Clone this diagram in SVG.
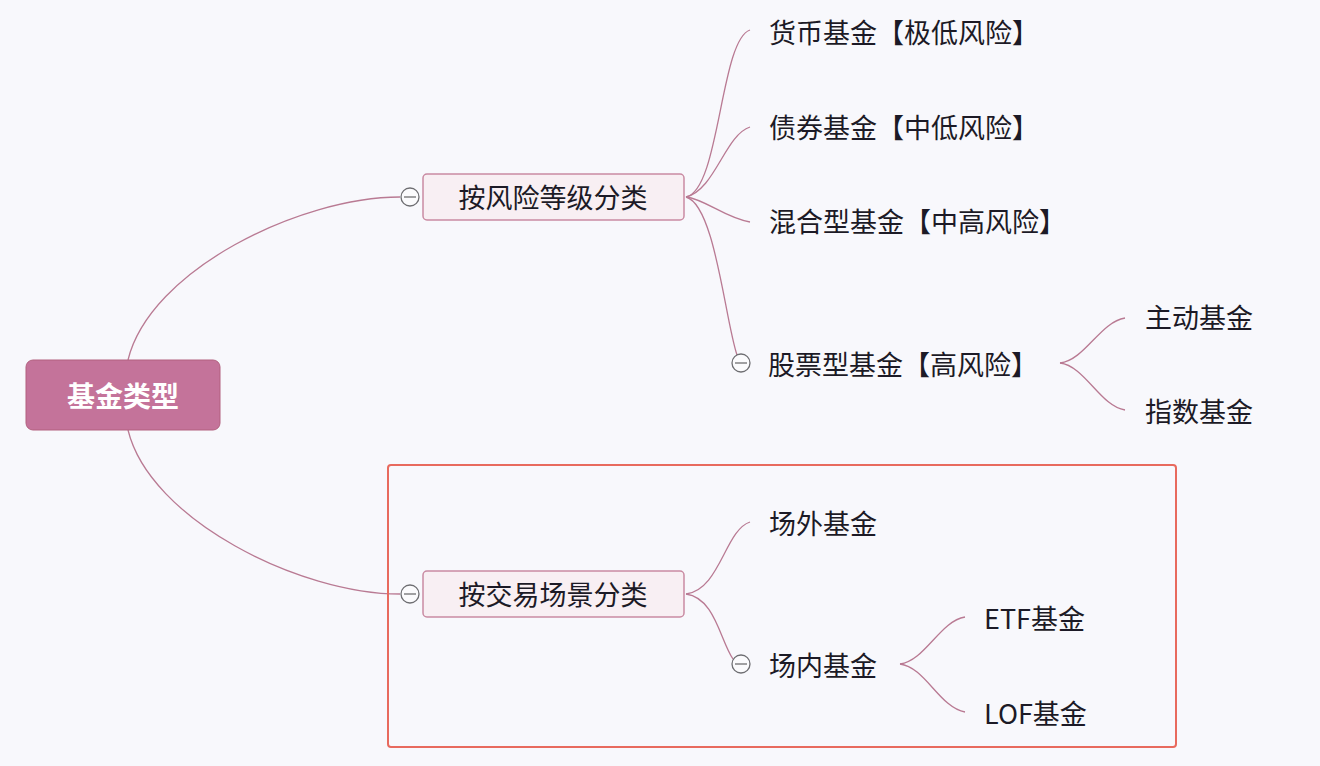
<svg xmlns="http://www.w3.org/2000/svg" width="1320" height="766" viewBox="0 0 1320 766">
<style>
.t{font-family:"Noto Sans CJK SC","Noto Sans",sans-serif;font-size:27px;fill:#1c1a26;dominant-baseline:central}
.c{fill:none;stroke:#b97a93;stroke-width:1.3}
.tog{fill:#fbfbfd;stroke:#6e6e72;stroke-width:1.3}
.br{fill:#f8eff3;stroke:#c98aa2;stroke-width:1.5}
</style>
<rect width="1320" height="766" fill="#f8f8fc"/>
<g id="connectors">
<path class="c" d="M128,360 C150,270 300,197 400,197"/>
<path class="c" d="M128,430 C150,520 300,594 400,594"/>
<path class="c" d="M686,197 C720,190 720,40 750,30"/>
<path class="c" d="M686,197 C715,190 725,135 750,127"/>
<path class="c" d="M686,197 C705,199 725,218 750,222"/>
<path class="c" d="M686,197 C715,205 725,320 737,355"/>
<path class="c" d="M1060,363 C1085,360 1100,322 1125,318"/>
<path class="c" d="M1060,363 C1085,366 1100,406 1125,410"/>
<path class="c" d="M686,594 C720,590 725,530 750,522"/>
<path class="c" d="M686,594 C715,598 720,640 733,659"/>
<path class="c" d="M900,664 C925,661 940,621 965,617"/>
<path class="c" d="M900,664 C925,667 940,708 965,712"/>
</g>
<rect id="highlight" x="388" y="465" width="788" height="282" rx="3" fill="none" stroke="#e86a5e" stroke-width="2"/>
<g id="root">
<rect x="26" y="360" width="194" height="70" rx="7" fill="#c4739a" stroke="#b2607f" stroke-width="1"/>
<text class="t" x="123" y="395" text-anchor="middle" style="fill:#ffffff;font-size:28px;font-weight:bold">基金类型</text>
</g>
<g id="risk">
<rect class="br" x="423" y="174" width="261" height="46" rx="4"/>
<text class="t" x="553" y="196" text-anchor="middle">按风险等级分类</text>
<circle class="tog" cx="410" cy="197" r="9"/>
<line x1="404" y1="197" x2="416" y2="197" stroke="#6e6e72" stroke-width="1.3"/>
</g>
<g id="money"><text class="t" x="769" y="31">货币基金【极低风险】</text></g>
<g id="bond"><text class="t" x="769" y="126">债券基金【中低风险】</text></g>
<g id="mixed"><text class="t" x="769" y="220">混合型基金【中高风险】</text></g>
<g id="stock">
<circle class="tog" cx="741" cy="363" r="9"/>
<line x1="735" y1="363" x2="747" y2="363" stroke="#6e6e72" stroke-width="1.3"/>
<text class="t" x="768" y="363">股票型基金【高风险】</text>
</g>
<g id="active"><text class="t" x="1145" y="316">主动基金</text></g>
<g id="index"><text class="t" x="1145" y="410">指数基金</text></g>
<g id="trade">
<rect class="br" x="423" y="571" width="261" height="46" rx="4"/>
<text class="t" x="553" y="593" text-anchor="middle">按交易场景分类</text>
<circle class="tog" cx="410" cy="594" r="9"/>
<line x1="404" y1="594" x2="416" y2="594" stroke="#6e6e72" stroke-width="1.3"/>
</g>
<g id="otc"><text class="t" x="769" y="522">场外基金</text></g>
<g id="onex">
<circle class="tog" cx="741" cy="664" r="9"/>
<line x1="735" y1="664" x2="747" y2="664" stroke="#6e6e72" stroke-width="1.3"/>
<text class="t" x="769" y="664">场内基金</text>
</g>
<g id="etf"><text class="t" x="984" y="617">ETF基金</text></g>
<g id="lof"><text class="t" x="984" y="712">LOF基金</text></g>
</svg>
